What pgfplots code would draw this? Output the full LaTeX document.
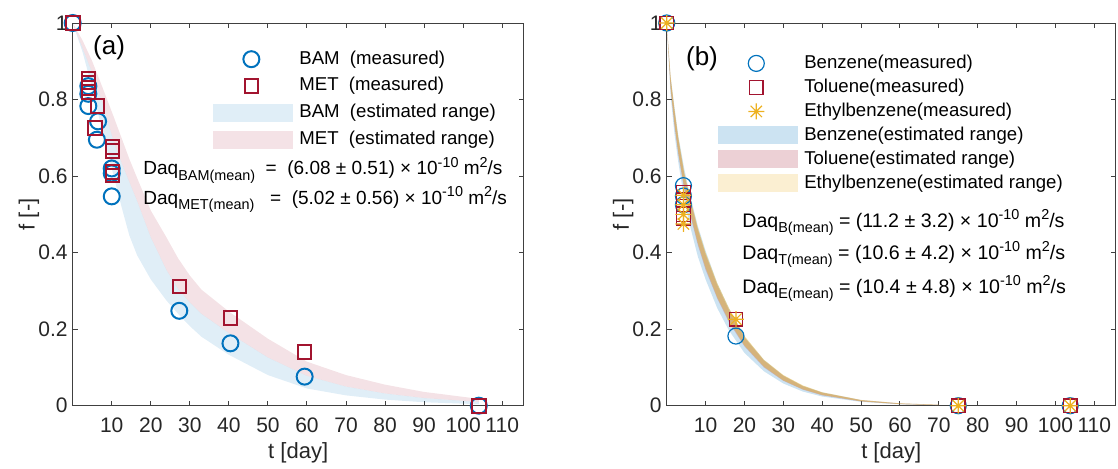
\documentclass[border=0pt]{standalone}
\usepackage{fontspec}
\setmainfont{Liberation Sans}
\usepackage{pgfplots}
\usepackage{pgfplotstable}
\pgfplotsset{compat=1.18}
\usepgfplotslibrary{fillbetween}

\definecolor{mblue}{RGB}{0,114,189}
\definecolor{mred}{RGB}{162,20,47}
\definecolor{myellow}{RGB}{237,177,32}
\definecolor{axgray}{RGB}{64,64,64}
\definecolor{txtgray}{RGB}{38,38,38}

\newcommand{\setfs}[1]{\fontsize{#1}{#1}\selectfont}
\newcommand{\lo}[1]{\raisebox{-2.6pt}{\fontsize{7.2}{8}\selectfont #1}}
\newcommand{\hi}[1]{\raisebox{3.9pt}{\fontsize{7.2}{8}\selectfont #1}}

\pgfplotsset{
  markimg/.style={legend image code/.code={\draw[##1] plot coordinates {(19pt,0pt)};}},
  patchimg/.style={legend image code/.code={\fill[##1] (0pt,-4.5pt) rectangle (40pt,4.5pt);}},
  panel/.style={
    scale only axis, anchor=south west, height=191.35pt,
    xmin=0, xmax=115.5, ymin=0, ymax=1,
    xtick={10,20,...,110}, ytick={0,0.2,0.4,0.6,0.8,1},
    xtick pos=both, ytick pos=both, xticklabel pos=lower, yticklabel pos=left,
    tick align=inside, major tick length=2.5pt,
    axis line style={draw=axgray, line width=0.5pt},
    tick style={draw=axgray, line width=0.5pt},
    tick label style={font=\setfs{10.5}, text=txtgray},
    xticklabel style={yshift=-2.5pt},
    yticklabel style={xshift=1pt},
    /pgf/number format/assume math mode=true,
    label style={font=\setfs{11}, text=txtgray},
    xlabel={t [day]}, ylabel={f [-]},
    xlabel style={at={(axis description cs:0.5,-0.124)}, anchor=center},
    ylabel style={at={(axis description cs:-0.097,0.5)}, anchor=center},
    clip=false,
    legend cell align=left,
    legend style={draw=none, fill=none, anchor=north west, font=\setfs{9.3},
      inner sep=0pt, nodes={inner sep=0pt, text height=7pt, text depth=2pt},
      /tikz/every odd column/.append style={column sep=3pt}},
  },
}

% panel (a): band edges (blue lower, boundary, pink upper)
\pgfplotstableread{
t L M U
0 1 1 1
2.5 0.925 0.935 0.955
5 0.83 0.87 0.90
7.5 0.72 0.795 0.835
10.5 0.60 0.69 0.755
12.5 0.52 0.635 0.70
14.5 0.445 0.585 0.645
16.5 0.393 0.535 0.595
20 0.33 0.44 0.51
24 0.275 0.355 0.44
27 0.24 0.305 0.385
30 0.208 0.27 0.34
33 0.18 0.24 0.303
40 0.133 0.19 0.246
50 0.08 0.126 0.175
60 0.045 0.078 0.115
70 0.027 0.05 0.08
80 0.016 0.032 0.055
90 0.009 0.02 0.036
104 0.004 0.01 0.018
}\bandA

\pgfplotstableread{
t f
0 1
4 0.835
4 0.815
4 0.783
6.5 0.743
6.2 0.695
10 0.62
10 0.607
10 0.547
27.3 0.248
40.4 0.163
59.4 0.076
104 0
}\bam

\pgfplotstableread{
t f
0 1
4 0.855
4 0.845
4 0.83
4 0.82
6.4 0.783
5.7 0.726
10.2 0.676
10.2 0.665
10.2 0.61
10.2 0.602
27.3 0.312
40.4 0.229
59.4 0.14
104 0
}\met

% panel (b): band edges
\pgfplotstableread{
t BL BU TL TU EL EU
0 1 1 1 1 1 1
1 0.81 0.86 0.825 0.855 0.83 0.86
2 0.71 0.78 0.73 0.77 0.735 0.775
3 0.635 0.705 0.655 0.695 0.66 0.70
4.5 0.54 0.62 0.565 0.605 0.57 0.61
6 0.47 0.55 0.50 0.54 0.505 0.545
8 0.39 0.47 0.42 0.46 0.425 0.465
10 0.33 0.405 0.355 0.395 0.36 0.40
13 0.255 0.32 0.28 0.315 0.283 0.32
16 0.197 0.255 0.218 0.25 0.222 0.255
20 0.138 0.18 0.155 0.178 0.157 0.182
25 0.09 0.12 0.1 0.118 0.102 0.12
30 0.058 0.079 0.065 0.078 0.066 0.08
35 0.037 0.052 0.042 0.051 0.043 0.053
40 0.024 0.035 0.027 0.034 0.028 0.035
50 0.01 0.015 0.011 0.0145 0.0115 0.015
60 0.0035 0.006 0.004 0.006 0.0042 0.0062
70 0.0012 0.0025 0.0015 0.0025 0.0016 0.0026
}\bandB

\pgfplotstableread{
t f
0 1
4.3 0.575
4.3 0.548
4.3 0.525
17.8 0.182
75 0
103.8 0
}\benz

\pgfplotstableread{
t f
0 1
4.3 0.557
4.3 0.538
4.3 0.5
4.3 0.49
17.8 0.226
75 0
103.8 0
}\tolu

\pgfplotstableread{
t f
0 1
4.3 0.55
4.3 0.525
4.3 0.5
4.3 0.475
17.8 0.226
75 0
103.8 0
}\ethb

\pgfdeclareplotmark{mstar}{%
  \pgfpathmoveto{\pgfqpoint{-\pgfplotmarksize}{0pt}}\pgfpathlineto{\pgfqpoint{\pgfplotmarksize}{0pt}}%
  \pgfpathmoveto{\pgfqpoint{0pt}{-\pgfplotmarksize}}\pgfpathlineto{\pgfqpoint{0pt}{\pgfplotmarksize}}%
  \pgfpathmoveto{\pgfqpoint{-0.707\pgfplotmarksize}{-0.707\pgfplotmarksize}}\pgfpathlineto{\pgfqpoint{0.707\pgfplotmarksize}{0.707\pgfplotmarksize}}%
  \pgfpathmoveto{\pgfqpoint{-0.707\pgfplotmarksize}{0.707\pgfplotmarksize}}\pgfpathlineto{\pgfqpoint{0.707\pgfplotmarksize}{-0.707\pgfplotmarksize}}%
  \pgfusepathqstroke}

\begin{document}
\begin{tikzpicture}

% ---------------- (a)
\begin{axis}[panel, at={(36.35pt,31.15pt)}, width=225.5pt,
  legend style={at={(rel axis cs:0.311,0.93)}, row sep=4.4pt}]
  \addlegendimage{only marks, mark=o, mark size=4pt, line width=1pt, color=mblue, markimg}
  \addlegendentry{BAM\ \ (measured)}
  \addlegendimage{only marks, mark=square, mark size=3.4pt, line width=1pt, color=mred, markimg}
  \addlegendentry{MET\ \ (measured)}
  \addlegendimage{fill=mblue, fill opacity=0.12, draw=none, patchimg}
  \addlegendentry{BAM\ \ (estimated range)}
  \addlegendimage{fill=mred, fill opacity=0.12, draw=none, patchimg}
  \addlegendentry{MET\ \ (estimated range)}

  \addplot[name path=aL, draw=none, forget plot] table[x=t, y=L] {\bandA};
  \addplot[name path=aM, draw=none, forget plot] table[x=t, y=M] {\bandA};
  \addplot[name path=aU, draw=none, forget plot] table[x=t, y=U] {\bandA};
  \addplot[fill=mblue, fill opacity=0.12, draw=none, forget plot] fill between[of=aL and aM];
  \addplot[fill=mred, fill opacity=0.12, draw=none, forget plot] fill between[of=aM and aU];

  \addplot[only marks, mark=o, mark size=4pt, line width=1pt, color=mblue, forget plot] table[x=t, y=f] {\bam};
  \addplot[only marks, mark=square, mark size=3.4pt, line width=1pt, color=mred, forget plot] table[x=t, y=f] {\met};

  \node[font=\setfs{13}, text=black] at (rel axis cs:0.0806,0.935) {(a)};
  \node[anchor=base west, font=\setfs{9.5}, inner sep=0pt] at (rel axis cs:0.156,0.603)
    {Daq\lo{BAM(mean)}\ \ =\ \ (6.08 ± 0.51) × 10\hi{-10} m\hi{2}/s};
  \node[anchor=base west, font=\setfs{9.5}, inner sep=0pt] at (rel axis cs:0.156,0.527)
    {Daq\lo{MET(mean)}\ \ \ =\ \ (5.02 ± 0.56) × 10\hi{-10} m\hi{2}/s};
\end{axis}

% ---------------- (b)
\begin{axis}[panel, at={(333.35pt,31.15pt)}, width=224.5pt,
  legend style={at={(rel axis cs:0.114,0.919)}, row sep=3.0pt}]
  \addlegendimage{only marks, mark=o, mark size=4pt, line width=0.6pt, color=mblue, markimg}
  \addlegendentry{Benzene(measured)}
  \addlegendimage{only marks, mark=square, mark size=3.4pt, line width=0.6pt, color=mred, markimg}
  \addlegendentry{Toluene(measured)}
  \addlegendimage{only marks, mark=mstar, mark size=4pt, line width=0.6pt, color=myellow, markimg}
  \addlegendentry{Ethylbenzene(measured)}
  \addlegendimage{fill=mblue, fill opacity=0.2, draw=none, patchimg}
  \addlegendentry{Benzene(estimated range)}
  \addlegendimage{fill=mred, fill opacity=0.2, draw=none, patchimg}
  \addlegendentry{Toluene(estimated range)}
  \addlegendimage{fill=myellow, fill opacity=0.2, draw=none, patchimg}
  \addlegendentry{Ethylbenzene(estimated range)}

  \addplot[name path=bBL, draw=none, forget plot] table[x=t, y=BL] {\bandB};
  \addplot[name path=bBU, draw=none, forget plot] table[x=t, y=BU] {\bandB};
  \addplot[name path=bTL, draw=none, forget plot] table[x=t, y=TL] {\bandB};
  \addplot[name path=bTU, draw=none, forget plot] table[x=t, y=TU] {\bandB};
  \addplot[name path=bEL, draw=none, forget plot] table[x=t, y=EL] {\bandB};
  \addplot[name path=bEU, draw=none, forget plot] table[x=t, y=EU] {\bandB};
  \addplot[fill=mblue, fill opacity=0.2, draw=none, forget plot] fill between[of=bBL and bBU];
  \addplot[fill=mred, fill opacity=0.22, draw=none, forget plot] fill between[of=bTL and bTU];
  \addplot[fill=myellow, fill opacity=0.45, draw=none, forget plot] fill between[of=bEL and bEU];

  \addplot[only marks, mark=o, mark size=4pt, line width=0.6pt, color=mblue, forget plot] table[x=t, y=f] {\benz};
  \addplot[only marks, mark=square, mark size=3.4pt, line width=0.6pt, color=mred, forget plot] table[x=t, y=f] {\tolu};
  \addplot[only marks, mark=mstar, mark size=4pt, line width=0.6pt, color=myellow, forget plot] table[x=t, y=f] {\ethb};

  \node[font=\setfs{13}, text=black] at (rel axis cs:0.0786,0.906) {(b)};
  \node[anchor=base west, font=\setfs{9.8}, inner sep=0pt] at (rel axis cs:0.1677,0.465)
    {Daq\lo{B(mean)} = (11.2 ± 3.2) × 10\hi{-10} m\hi{2}/s};
  \node[anchor=base west, font=\setfs{9.8}, inner sep=0pt] at (rel axis cs:0.1677,0.3825)
    {Daq\lo{T(mean)} = (10.6 ± 4.2) × 10\hi{-10} m\hi{2}/s};
  \node[anchor=base west, font=\setfs{9.8}, inner sep=0pt] at (rel axis cs:0.1677,0.2937)
    {Daq\lo{E(mean)} = (10.4 ± 4.8) × 10\hi{-10} m\hi{2}/s};
\end{axis}

\pgfresetboundingbox
\path[use as bounding box] (0,0) rectangle (559pt,234pt);
\end{tikzpicture}
\end{document}
